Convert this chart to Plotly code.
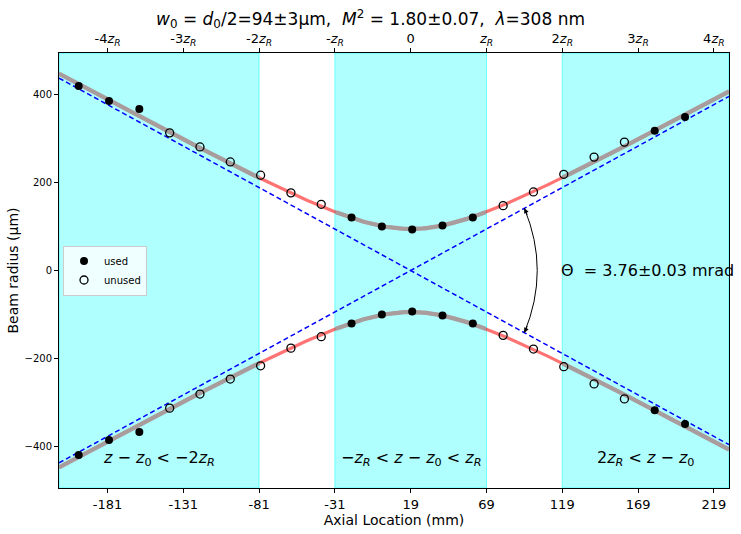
import numpy as np
import plotly.graph_objects as go

# ---- data ----
z_mm = [-200, -180, -160, -140, -120, -100, -80, -60, -40, -20, 0,
        20, 40, 60, 80, 100, 120, 140, 160, 180, 200]
radius_um = [418, 384, 366, 312, 280, 246, 216, 176, 150, 120, 100,
             93, 102, 120, 147, 178, 218, 257, 291, 317, 348]
used = [True, True, True, False, False, False, False, False, False, True, True,
        True, True, True, False, False, False, False, False, True, True]

# fit parameters (from the title / annotations)
w0 = 94.0        # um
z0 = 19.0        # mm
zR = 50.0        # mm
theta = 3.76     # mrad (full angle)
zmin, zmax = -213.0, 229.0
rmax = 493.0

top_tick_n = [-4, -3, -2, -1, 0, 1, 2, 3, 4]
top_tick_text = ["-4<i>z</i><sub><i>R</i></sub>", "-3<i>z</i><sub><i>R</i></sub>",
                 "-2<i>z</i><sub><i>R</i></sub>", "-<i>z</i><sub><i>R</i></sub>", "0",
                 "<i>z</i><sub><i>R</i></sub>", "2<i>z</i><sub><i>R</i></sub>",
                 "3<i>z</i><sub><i>R</i></sub>", "4<i>z</i><sub><i>R</i></sub>"]

FONT = "DejaVu Sans"

z = np.array(z_mm, float)
r = np.array(radius_um, float)
u = np.array(used)

zf = np.linspace(zmin, zmax, 400)
rf = w0 * np.sqrt(1 + ((zf - z0) / zR) ** 2)

fig = go.Figure()

# red fit curve
for s in (1, -1):
    fig.add_trace(go.Scatter(x=zf, y=s * rf, mode="lines",
                             line=dict(color="rgba(255,0,0,0.55)", width=3.2),
                             showlegend=False, hoverinfo="skip"))

# gray segments in fitting regions
masks = [zf <= z0 - 2 * zR, (zf >= z0 - zR) & (zf <= z0 + zR), zf >= z0 + 2 * zR]
for m in masks:
    for s in (1, -1):
        fig.add_trace(go.Scatter(x=zf[m], y=s * rf[m], mode="lines",
                                 line=dict(color="#a99c9c", width=4.3),
                                 showlegend=False, hoverinfo="skip"))

# asymptotes
za = np.array([zmin, zmax])
for s in (1, -1):
    fig.add_trace(go.Scatter(x=za, y=s * theta / 2 * (za - z0), mode="lines",
                             line=dict(color="blue", width=1.5, dash="5px,3px"),
                             showlegend=False, hoverinfo="skip"))

# measured points
zz = np.concatenate([z, z])
rr = np.concatenate([r, -r])
uu = np.concatenate([u, u])
fig.add_trace(go.Scatter(x=zz[uu], y=rr[uu], mode="markers", name="used",
                         marker=dict(symbol="circle", size=8, color="black")))
fig.add_trace(go.Scatter(x=zz[~uu], y=rr[~uu], mode="markers", name="unused",
                         marker=dict(symbol="circle-open", size=8, color="black",
                                     line=dict(width=1.3, color="black"))))

# invisible trace for the top axis
fig.add_trace(go.Scatter(x=[zmin, zmax], y=[0, 0], xaxis="x2", mode="markers",
                         marker=dict(opacity=0), showlegend=False, hoverinfo="skip"))

# fitting regions
shapes = []
for a, b in [(zmin, z0 - 2 * zR), (z0 - zR, z0 + zR), (z0 + 2 * zR, zmax)]:
    shapes.append(dict(type="rect", xref="x", yref="paper", x0=a, x1=b, y0=0, y1=1,
                       fillcolor="rgba(0,255,255,0.31)",
                       line=dict(color="rgba(0,255,255,0.5)", width=1), layer="below"))

# curved double arrow
ax_z = z0 + 1.5 * zR
ax_r = 1.5 * zR * theta / 2
ctrl_z = ax_z + 0.34 * zR
shapes.append(dict(type="path", xref="x", yref="y",
                   path=f"M {ax_z},{ax_r} Q {ctrl_z},0 {ax_z},{-ax_r}",
                   line=dict(color="black", width=1)))

annotations = []
for s in (1, -1):
    annotations.append(dict(x=ax_z, y=s * ax_r, xref="x", yref="y", text="",
                            showarrow=True, arrowhead=2, arrowsize=1, arrowwidth=1,
                            arrowcolor="black", ax=3.5, ay=s * 8))

annotations.append(dict(x=z0 + 2 * zR, y=0, xref="x", yref="y",
                        text="Θ  = 3.76±0.03 mrad", showarrow=False,
                        xanchor="left", yanchor="middle", xshift=-3,
                        font=dict(family=FONT, size=16, color="black")))

lab_y = -425
lab_font = dict(family=FONT, size=16, color="black")
annotations.append(dict(x=(zmin + z0 - 2 * zR) / 2, y=lab_y, xref="x", yref="y",
                        text="<i>z</i> − <i>z</i><sub>0</sub> &lt; −2<i>z</i><sub><i>R</i></sub>",
                        showarrow=False, xanchor="center", yanchor="middle", font=lab_font))
annotations.append(dict(x=z0, y=lab_y, xref="x", yref="y",
                        text="−<i>z</i><sub><i>R</i></sub> &lt; <i>z</i> − <i>z</i><sub>0</sub> &lt; <i>z</i><sub><i>R</i></sub>",
                        showarrow=False, xanchor="center", yanchor="middle", font=lab_font))
annotations.append(dict(x=(zmax + z0 + 2 * zR) / 2, y=lab_y, xref="x", yref="y",
                        text="2<i>z</i><sub><i>R</i></sub> &lt; <i>z</i> − <i>z</i><sub>0</sub>",
                        showarrow=False, xanchor="center", yanchor="middle", font=lab_font))

bottom_ticks = [z0 + n * zR for n in top_tick_n]

fig.update_layout(
    width=741, height=534,
    margin=dict(l=59, r=12, t=53, b=46, autoexpand=False),
    plot_bgcolor="white", paper_bgcolor="white",
    font=dict(family=FONT, color="black"),
    title=dict(text="<i>w</i><sub>0</sub> = <i>d</i><sub>0</sub>/2=94±3µm,  <i>M</i><sup>2</sup> = 1.80±0.07,  <i>λ</i>=308 nm",
               x=0.5, xanchor="center", y=0.965, yanchor="middle",
               font=dict(family=FONT, size=17)),
    xaxis=dict(range=[zmin, zmax], tickvals=bottom_ticks, automargin=False,
               ticktext=[f"{int(t)}" for t in bottom_ticks],
               showgrid=False, zeroline=False, showline=True, linecolor="black",
               linewidth=1, ticks="outside", ticklen=4, tickcolor="black",
               tickfont=dict(size=13),
               title=dict(text="Axial Location (mm)", font=dict(size=14), standoff=4)),
    xaxis2=dict(range=[zmin, zmax], overlaying="x", side="top", anchor="y",
                tickvals=bottom_ticks, ticktext=top_tick_text, automargin=False,
                showgrid=False, zeroline=False, showline=True, linecolor="black",
                linewidth=1, ticks="outside", ticklen=4, tickcolor="black",
                tickfont=dict(size=13)),
    yaxis=dict(range=[-rmax, rmax], tickvals=[-400, -200, 0, 200, 400], automargin=False,
               ticktext=["−400", "−200", "0", "200", "400"],
               showgrid=False, zeroline=False, showline=True, mirror=True,
               linecolor="black", linewidth=1, ticks="outside", ticklen=4,
               tickcolor="black", tickfont=dict(size=10),
               title=dict(text="Beam radius (µm)", font=dict(size=14), standoff=2)),
    legend=dict(x=0.006, y=0.5, xanchor="left", yanchor="middle",
                bgcolor="rgba(255,255,255,0.8)", bordercolor="#cccccc", borderwidth=1,
                font=dict(size=10), itemwidth=30, tracegroupgap=0),
    shapes=shapes, annotations=annotations,
)

fig.write_html("out.html", config={"displayModeBar": False},
               post_script="document.body.style.margin='0';document.body.style.padding='0';")
